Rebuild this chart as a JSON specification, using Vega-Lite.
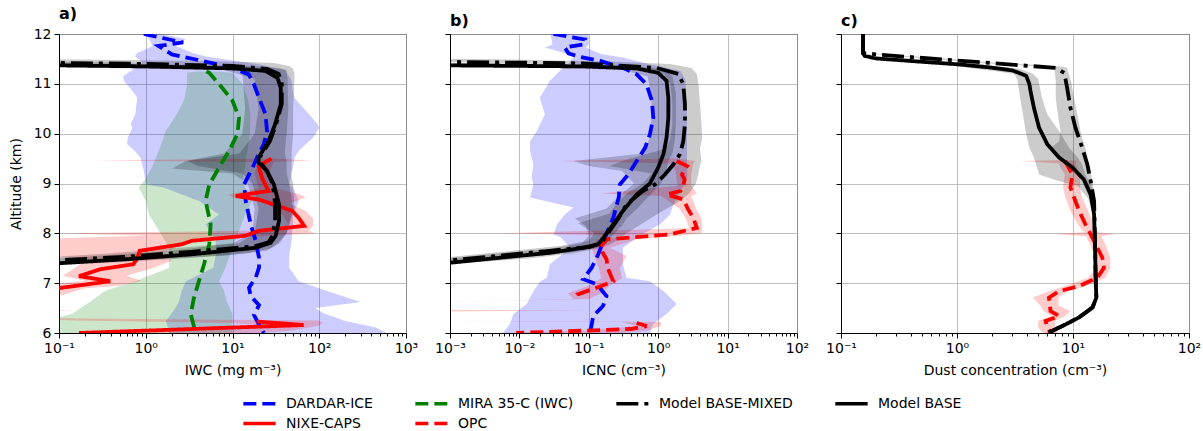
{
  "$schema": "https://vega.github.io/schema/vega-lite/v6.json",
  "background": "white",
  "padding": {"left": 8, "top": 5, "right": 5, "bottom": 5},
  "datasets": {
    "L": [
      {"p":"a","s":"DARDAR-ICE","alt":12.0,"v":0.95},{"p":"a","s":"DARDAR-ICE","alt":11.83,"v":2.7},{"p":"a","s":"DARDAR-ICE","alt":11.76,"v":1.4},{"p":"a","s":"DARDAR-ICE","alt":11.59,"v":2.0},{"p":"a","s":"DARDAR-ICE","alt":11.46,"v":4.5},{"p":"a","s":"DARDAR-ICE","alt":11.32,"v":10},{"p":"a","s":"DARDAR-ICE","alt":11.19,"v":15.4},{"p":"a","s":"DARDAR-ICE","alt":10.99,"v":17.7},{"p":"a","s":"DARDAR-ICE","alt":10.72,"v":20.2},{"p":"a","s":"DARDAR-ICE","alt":10.39,"v":24},{"p":"a","s":"DARDAR-ICE","alt":10.05,"v":25},{"p":"a","s":"DARDAR-ICE","alt":9.79,"v":23},{"p":"a","s":"DARDAR-ICE","alt":9.59,"v":20},{"p":"a","s":"DARDAR-ICE","alt":9.38,"v":17.7},{"p":"a","s":"DARDAR-ICE","alt":9.18,"v":15.5},{"p":"a","s":"DARDAR-ICE","alt":8.98,"v":13.6},{"p":"a","s":"DARDAR-ICE","alt":8.65,"v":14.2},{"p":"a","s":"DARDAR-ICE","alt":8.18,"v":16.2},{"p":"a","s":"DARDAR-ICE","alt":7.85,"v":18.5},{"p":"a","s":"DARDAR-ICE","alt":7.51,"v":20.2},{"p":"a","s":"DARDAR-ICE","alt":7.31,"v":20.2},{"p":"a","s":"DARDAR-ICE","alt":7.11,"v":18.5},{"p":"a","s":"DARDAR-ICE","alt":6.91,"v":15.5},{"p":"a","s":"DARDAR-ICE","alt":6.74,"v":16.2},{"p":"a","s":"DARDAR-ICE","alt":6.56,"v":20.2},{"p":"a","s":"DARDAR-ICE","alt":6.36,"v":17.7},{"p":"a","s":"DARDAR-ICE","alt":6.17,"v":20.2},{"p":"a","s":"DARDAR-ICE","alt":6.0,"v":23},
      {"p":"a","s":"MIRA 35-C (IWC)","alt":11.25,"v":5.0},{"p":"a","s":"MIRA 35-C (IWC)","alt":11.22,"v":5.4},{"p":"a","s":"MIRA 35-C (IWC)","alt":10.92,"v":7.6},{"p":"a","s":"MIRA 35-C (IWC)","alt":10.66,"v":10},{"p":"a","s":"MIRA 35-C (IWC)","alt":10.32,"v":11.9},{"p":"a","s":"MIRA 35-C (IWC)","alt":9.99,"v":11.4},{"p":"a","s":"MIRA 35-C (IWC)","alt":9.65,"v":9.1},{"p":"a","s":"MIRA 35-C (IWC)","alt":9.32,"v":7.0},{"p":"a","s":"MIRA 35-C (IWC)","alt":8.98,"v":5.4},{"p":"a","s":"MIRA 35-C (IWC)","alt":8.65,"v":4.9},{"p":"a","s":"MIRA 35-C (IWC)","alt":8.18,"v":5.6},{"p":"a","s":"MIRA 35-C (IWC)","alt":7.78,"v":5.4},{"p":"a","s":"MIRA 35-C (IWC)","alt":7.38,"v":4.7},{"p":"a","s":"MIRA 35-C (IWC)","alt":7.04,"v":4.1},{"p":"a","s":"MIRA 35-C (IWC)","alt":6.71,"v":3.6},{"p":"a","s":"MIRA 35-C (IWC)","alt":6.38,"v":3.3},{"p":"a","s":"MIRA 35-C (IWC)","alt":6.0,"v":3.76},
      {"p":"a","s":"NIXE-CAPS","alt":9.5,"v":28},{"p":"a","s":"NIXE-CAPS","alt":9.35,"v":20},{"p":"a","s":"NIXE-CAPS","alt":9.1,"v":22},{"p":"a","s":"NIXE-CAPS","alt":8.85,"v":26},{"p":"a","s":"NIXE-CAPS","alt":8.75,"v":10.9},{"p":"a","s":"NIXE-CAPS","alt":8.68,"v":20},{"p":"a","s":"NIXE-CAPS","alt":8.45,"v":49},{"p":"a","s":"NIXE-CAPS","alt":8.31,"v":58},{"p":"a","s":"NIXE-CAPS","alt":8.15,"v":67},{"p":"a","s":"NIXE-CAPS","alt":8.05,"v":20},{"p":"a","s":"NIXE-CAPS","alt":7.95,"v":14},{"p":"a","s":"NIXE-CAPS","alt":7.85,"v":3.4},{"p":"a","s":"NIXE-CAPS","alt":7.78,"v":2.6},{"p":"a","s":"NIXE-CAPS","alt":7.65,"v":0.85},{"p":"a","s":"NIXE-CAPS","alt":7.5,"v":0.8},{"p":"a","s":"NIXE-CAPS","alt":7.38,"v":0.72},{"p":"a","s":"NIXE-CAPS","alt":7.28,"v":0.3},{"p":"a","s":"NIXE-CAPS","alt":7.14,"v":0.17},{"p":"a","s":"NIXE-CAPS","alt":7.04,"v":0.39},{"p":"a","s":"NIXE-CAPS","alt":6.9,"v":0.1},{"p":"a","s":"NIXE-CAPS","alt":6.85,"v":0.03},{"p":"a","s":"NIXE-CAPS","alt":6.5,"v":null},{"p":"a","s":"NIXE-CAPS","alt":6.23,"v":19},{"p":"a","s":"NIXE-CAPS","alt":6.16,"v":66},{"p":"a","s":"NIXE-CAPS","alt":6.0,"v":0.17},
      {"p":"a","s":"Model BASE-MIXED","alt":11.44,"v":0.05},{"p":"a","s":"Model BASE-MIXED","alt":11.42,"v":0.1},{"p":"a","s":"Model BASE-MIXED","alt":11.4,"v":1},{"p":"a","s":"Model BASE-MIXED","alt":11.36,"v":10},{"p":"a","s":"Model BASE-MIXED","alt":11.3,"v":25},{"p":"a","s":"Model BASE-MIXED","alt":11.2,"v":34},{"p":"a","s":"Model BASE-MIXED","alt":11.0,"v":37},{"p":"a","s":"Model BASE-MIXED","alt":10.6,"v":37},{"p":"a","s":"Model BASE-MIXED","alt":10.2,"v":32},{"p":"a","s":"Model BASE-MIXED","alt":9.85,"v":27},{"p":"a","s":"Model BASE-MIXED","alt":9.55,"v":21},{"p":"a","s":"Model BASE-MIXED","alt":9.42,"v":21},{"p":"a","s":"Model BASE-MIXED","alt":9.25,"v":25},{"p":"a","s":"Model BASE-MIXED","alt":9.0,"v":29},{"p":"a","s":"Model BASE-MIXED","alt":8.6,"v":31},{"p":"a","s":"Model BASE-MIXED","alt":8.25,"v":31},{"p":"a","s":"Model BASE-MIXED","alt":7.95,"v":29},{"p":"a","s":"Model BASE-MIXED","alt":7.82,"v":26},{"p":"a","s":"Model BASE-MIXED","alt":7.74,"v":18},{"p":"a","s":"Model BASE-MIXED","alt":7.63,"v":3.4},{"p":"a","s":"Model BASE-MIXED","alt":7.53,"v":0.6},{"p":"a","s":"Model BASE-MIXED","alt":7.46,"v":0.1},{"p":"a","s":"Model BASE-MIXED","alt":7.4,"v":0.05},
      {"p":"a","s":"Model BASE","alt":11.38,"v":0.05},{"p":"a","s":"Model BASE","alt":11.37,"v":0.1},{"p":"a","s":"Model BASE","alt":11.35,"v":1},{"p":"a","s":"Model BASE","alt":11.31,"v":10},{"p":"a","s":"Model BASE","alt":11.26,"v":24},{"p":"a","s":"Model BASE","alt":11.12,"v":33},{"p":"a","s":"Model BASE","alt":10.92,"v":36},{"p":"a","s":"Model BASE","alt":10.59,"v":36},{"p":"a","s":"Model BASE","alt":10.19,"v":31},{"p":"a","s":"Model BASE","alt":9.85,"v":26},{"p":"a","s":"Model BASE","alt":9.52,"v":20},{"p":"a","s":"Model BASE","alt":9.42,"v":20},{"p":"a","s":"Model BASE","alt":9.25,"v":25},{"p":"a","s":"Model BASE","alt":8.98,"v":30},{"p":"a","s":"Model BASE","alt":8.58,"v":34.4},{"p":"a","s":"Model BASE","alt":8.25,"v":34.4},{"p":"a","s":"Model BASE","alt":7.95,"v":31.4},{"p":"a","s":"Model BASE","alt":7.81,"v":27.5},{"p":"a","s":"Model BASE","alt":7.71,"v":18.5},{"p":"a","s":"Model BASE","alt":7.58,"v":3.4},{"p":"a","s":"Model BASE","alt":7.48,"v":0.59},{"p":"a","s":"Model BASE","alt":7.4,"v":0.1},{"p":"a","s":"Model BASE","alt":7.35,"v":0.05},

      {"p":"b","s":"DARDAR-ICE","alt":12.0,"v":0.031},{"p":"b","s":"DARDAR-ICE","alt":11.89,"v":0.088},{"p":"b","s":"DARDAR-ICE","alt":11.79,"v":0.083},{"p":"b","s":"DARDAR-ICE","alt":11.73,"v":0.045},{"p":"b","s":"DARDAR-ICE","alt":11.61,"v":0.051},{"p":"b","s":"DARDAR-ICE","alt":11.54,"v":0.075},{"p":"b","s":"DARDAR-ICE","alt":11.46,"v":0.145},{"p":"b","s":"DARDAR-ICE","alt":11.32,"v":0.31},{"p":"b","s":"DARDAR-ICE","alt":11.19,"v":0.49},{"p":"b","s":"DARDAR-ICE","alt":10.99,"v":0.68},{"p":"b","s":"DARDAR-ICE","alt":10.66,"v":0.81},{"p":"b","s":"DARDAR-ICE","alt":10.32,"v":0.85},{"p":"b","s":"DARDAR-ICE","alt":9.99,"v":0.76},{"p":"b","s":"DARDAR-ICE","alt":9.72,"v":0.65},{"p":"b","s":"DARDAR-ICE","alt":9.45,"v":0.49},{"p":"b","s":"DARDAR-ICE","alt":9.18,"v":0.37},{"p":"b","s":"DARDAR-ICE","alt":8.98,"v":0.28},{"p":"b","s":"DARDAR-ICE","alt":8.72,"v":0.27},{"p":"b","s":"DARDAR-ICE","alt":8.31,"v":0.225},{"p":"b","s":"DARDAR-ICE","alt":7.91,"v":0.17},{"p":"b","s":"DARDAR-ICE","alt":7.58,"v":0.137},{"p":"b","s":"DARDAR-ICE","alt":7.31,"v":0.11},{"p":"b","s":"DARDAR-ICE","alt":7.08,"v":0.083},{"p":"b","s":"DARDAR-ICE","alt":6.98,"v":0.13},{"p":"b","s":"DARDAR-ICE","alt":6.74,"v":0.18},{"p":"b","s":"DARDAR-ICE","alt":6.54,"v":0.16},{"p":"b","s":"DARDAR-ICE","alt":6.34,"v":0.116},{"p":"b","s":"DARDAR-ICE","alt":6.17,"v":0.11},{"p":"b","s":"DARDAR-ICE","alt":6.0,"v":0.104},
      {"p":"b","s":"OPC","alt":9.45,"v":1.85},{"p":"b","s":"OPC","alt":9.35,"v":2.6},{"p":"b","s":"OPC","alt":9.18,"v":2.2},{"p":"b","s":"OPC","alt":9.08,"v":2.4},{"p":"b","s":"OPC","alt":8.95,"v":2.3},{"p":"b","s":"OPC","alt":8.85,"v":2.1},{"p":"b","s":"OPC","alt":8.78,"v":1.32},{"p":"b","s":"OPC","alt":8.68,"v":2.3},{"p":"b","s":"OPC","alt":8.48,"v":2.7},{"p":"b","s":"OPC","alt":8.31,"v":3.2},{"p":"b","s":"OPC","alt":8.11,"v":3.6},{"p":"b","s":"OPC","alt":7.98,"v":1.48},{"p":"b","s":"OPC","alt":7.88,"v":0.18},{"p":"b","s":"OPC","alt":7.71,"v":0.145},{"p":"b","s":"OPC","alt":7.48,"v":0.18},{"p":"b","s":"OPC","alt":7.28,"v":0.19},{"p":"b","s":"OPC","alt":7.04,"v":0.225},{"p":"b","s":"OPC","alt":6.91,"v":0.13},{"p":"b","s":"OPC","alt":6.78,"v":0.071},{"p":"b","s":"OPC","alt":6.68,"v":0.083},{"p":"b","s":"OPC","alt":6.45,"v":null},{"p":"b","s":"OPC","alt":6.2,"v":0.49},{"p":"b","s":"OPC","alt":6.14,"v":0.68},{"p":"b","s":"OPC","alt":6.08,"v":0.4},{"p":"b","s":"OPC","alt":6.0,"v":0.009},
      {"p":"b","s":"Model BASE-MIXED","alt":11.45,"v":0.0005},{"p":"b","s":"Model BASE-MIXED","alt":11.44,"v":0.001},{"p":"b","s":"Model BASE-MIXED","alt":11.41,"v":0.083},{"p":"b","s":"Model BASE-MIXED","alt":11.32,"v":0.95},{"p":"b","s":"Model BASE-MIXED","alt":11.2,"v":1.95},{"p":"b","s":"Model BASE-MIXED","alt":10.99,"v":2.3},{"p":"b","s":"Model BASE-MIXED","alt":10.59,"v":2.43},{"p":"b","s":"Model BASE-MIXED","alt":10.19,"v":2.43},{"p":"b","s":"Model BASE-MIXED","alt":9.85,"v":2.3},{"p":"b","s":"Model BASE-MIXED","alt":9.59,"v":2.06},{"p":"b","s":"Model BASE-MIXED","alt":9.38,"v":1.65},{"p":"b","s":"Model BASE-MIXED","alt":9.18,"v":1.25},{"p":"b","s":"Model BASE-MIXED","alt":8.98,"v":0.9},{"p":"b","s":"Model BASE-MIXED","alt":8.85,"v":0.6},{"p":"b","s":"Model BASE-MIXED","alt":8.58,"v":0.35},{"p":"b","s":"Model BASE-MIXED","alt":8.31,"v":0.27},{"p":"b","s":"Model BASE-MIXED","alt":8.05,"v":0.2},{"p":"b","s":"Model BASE-MIXED","alt":7.81,"v":0.153},{"p":"b","s":"Model BASE-MIXED","alt":7.73,"v":0.104},{"p":"b","s":"Model BASE-MIXED","alt":7.65,"v":0.0276},{"p":"b","s":"Model BASE-MIXED","alt":7.55,"v":0.0052},{"p":"b","s":"Model BASE-MIXED","alt":7.46,"v":0.001},{"p":"b","s":"Model BASE-MIXED","alt":7.43,"v":0.0005},
      {"p":"b","s":"Model BASE","alt":11.38,"v":0.0005},{"p":"b","s":"Model BASE","alt":11.37,"v":0.001},{"p":"b","s":"Model BASE","alt":11.35,"v":0.083},{"p":"b","s":"Model BASE","alt":11.31,"v":0.49},{"p":"b","s":"Model BASE","alt":11.22,"v":1.0},{"p":"b","s":"Model BASE","alt":11.06,"v":1.32},{"p":"b","s":"Model BASE","alt":10.72,"v":1.4},{"p":"b","s":"Model BASE","alt":10.32,"v":1.4},{"p":"b","s":"Model BASE","alt":9.92,"v":1.32},{"p":"b","s":"Model BASE","alt":9.59,"v":1.19},{"p":"b","s":"Model BASE","alt":9.32,"v":1.0},{"p":"b","s":"Model BASE","alt":9.0,"v":0.76},{"p":"b","s":"Model BASE","alt":8.78,"v":0.49},{"p":"b","s":"Model BASE","alt":8.45,"v":0.31},{"p":"b","s":"Model BASE","alt":8.18,"v":0.225},{"p":"b","s":"Model BASE","alt":7.95,"v":0.17},{"p":"b","s":"Model BASE","alt":7.78,"v":0.137},{"p":"b","s":"Model BASE","alt":7.71,"v":0.083},{"p":"b","s":"Model BASE","alt":7.61,"v":0.0276},{"p":"b","s":"Model BASE","alt":7.51,"v":0.0052},{"p":"b","s":"Model BASE","alt":7.41,"v":0.001},{"p":"b","s":"Model BASE","alt":7.38,"v":0.0005},

      {"p":"c","s":"OPC","alt":9.45,"v":8.5},{"p":"c","s":"OPC","alt":9.38,"v":8.9},{"p":"c","s":"OPC","alt":9.18,"v":9.9},{"p":"c","s":"OPC","alt":8.92,"v":9.5},{"p":"c","s":"OPC","alt":8.72,"v":10.2},{"p":"c","s":"OPC","alt":8.45,"v":11.3},{"p":"c","s":"OPC","alt":8.18,"v":12.8},{"p":"c","s":"OPC","alt":7.98,"v":14.2},{"p":"c","s":"OPC","alt":7.78,"v":15.7},{"p":"c","s":"OPC","alt":7.51,"v":17.9},{"p":"c","s":"OPC","alt":7.31,"v":18.5},{"p":"c","s":"OPC","alt":7.11,"v":16.2},{"p":"c","s":"OPC","alt":6.94,"v":11.3},{"p":"c","s":"OPC","alt":6.84,"v":7.6},{"p":"c","s":"OPC","alt":6.71,"v":6.2},{"p":"c","s":"OPC","alt":6.44,"v":6.4},{"p":"c","s":"OPC","alt":6.34,"v":7.6},{"p":"c","s":"OPC","alt":6.24,"v":5.8},{"p":"c","s":"OPC","alt":6.11,"v":6.0},{"p":"c","s":"OPC","alt":6.01,"v":6.4},
      {"p":"c","s":"Model BASE-MIXED","alt":12.0,"v":0.155},{"p":"c","s":"Model BASE-MIXED","alt":11.62,"v":0.155},{"p":"c","s":"Model BASE-MIXED","alt":11.59,"v":0.2},{"p":"c","s":"Model BASE-MIXED","alt":11.49,"v":0.74},{"p":"c","s":"Model BASE-MIXED","alt":11.42,"v":1.89},{"p":"c","s":"Model BASE-MIXED","alt":11.32,"v":7.1},{"p":"c","s":"Model BASE-MIXED","alt":11.22,"v":8.4},{"p":"c","s":"Model BASE-MIXED","alt":10.92,"v":8.9},{"p":"c","s":"Model BASE-MIXED","alt":10.52,"v":9.5},{"p":"c","s":"Model BASE-MIXED","alt":10.12,"v":10.5},{"p":"c","s":"Model BASE-MIXED","alt":9.72,"v":12.0},{"p":"c","s":"Model BASE-MIXED","alt":9.38,"v":13.3},{"p":"c","s":"Model BASE-MIXED","alt":9.05,"v":14.2},{"p":"c","s":"Model BASE-MIXED","alt":8.65,"v":15.2},{"p":"c","s":"Model BASE-MIXED","alt":8.38,"v":15.3},{"p":"c","s":"Model BASE-MIXED","alt":7.71,"v":15.5},{"p":"c","s":"Model BASE-MIXED","alt":7.04,"v":15.7},{"p":"c","s":"Model BASE-MIXED","alt":6.71,"v":15.9},{"p":"c","s":"Model BASE-MIXED","alt":6.51,"v":14.7},{"p":"c","s":"Model BASE-MIXED","alt":6.31,"v":11.2},{"p":"c","s":"Model BASE-MIXED","alt":6.17,"v":8.6},{"p":"c","s":"Model BASE-MIXED","alt":6.01,"v":6.2},
      {"p":"c","s":"Model BASE","alt":12.0,"v":0.155},{"p":"c","s":"Model BASE","alt":11.62,"v":0.155},{"p":"c","s":"Model BASE","alt":11.56,"v":0.16},{"p":"c","s":"Model BASE","alt":11.51,"v":0.2},{"p":"c","s":"Model BASE","alt":11.45,"v":0.45},{"p":"c","s":"Model BASE","alt":11.39,"v":1.04},{"p":"c","s":"Model BASE","alt":11.33,"v":1.9},{"p":"c","s":"Model BASE","alt":11.27,"v":3.0},{"p":"c","s":"Model BASE","alt":11.21,"v":3.5},{"p":"c","s":"Model BASE","alt":11.16,"v":3.95},{"p":"c","s":"Model BASE","alt":11.0,"v":4.2},{"p":"c","s":"Model BASE","alt":10.86,"v":4.3},{"p":"c","s":"Model BASE","alt":10.52,"v":4.6},{"p":"c","s":"Model BASE","alt":10.12,"v":5.1},{"p":"c","s":"Model BASE","alt":9.79,"v":6.0},{"p":"c","s":"Model BASE","alt":9.52,"v":7.6},{"p":"c","s":"Model BASE","alt":9.32,"v":9.9},{"p":"c","s":"Model BASE","alt":9.08,"v":12.4},{"p":"c","s":"Model BASE","alt":8.78,"v":14.2},{"p":"c","s":"Model BASE","alt":8.38,"v":15.2},{"p":"c","s":"Model BASE","alt":7.71,"v":15.5},{"p":"c","s":"Model BASE","alt":7.04,"v":15.7},{"p":"c","s":"Model BASE","alt":6.71,"v":15.9},{"p":"c","s":"Model BASE","alt":6.51,"v":14.7},{"p":"c","s":"Model BASE","alt":6.31,"v":11.2},{"p":"c","s":"Model BASE","alt":6.17,"v":8.6},{"p":"c","s":"Model BASE","alt":6.01,"v":6.2}
    ],
    "B": [
      {"p":"a","s":"DARDAR-ICE","alt":12.0,"lo":0.95,"hi":1.5},{"p":"a","s":"DARDAR-ICE","alt":11.9,"lo":1.1,"hi":2.9},{"p":"a","s":"DARDAR-ICE","alt":11.76,"lo":1.2,"hi":2.2},{"p":"a","s":"DARDAR-ICE","alt":11.62,"lo":0.8,"hi":3.5},{"p":"a","s":"DARDAR-ICE","alt":11.55,"lo":0.75,"hi":5},{"p":"a","s":"DARDAR-ICE","alt":11.45,"lo":0.9,"hi":12},{"p":"a","s":"DARDAR-ICE","alt":11.38,"lo":0.9,"hi":22},{"p":"a","s":"DARDAR-ICE","alt":11.28,"lo":0.7,"hi":40},{"p":"a","s":"DARDAR-ICE","alt":11.15,"lo":0.55,"hi":45},{"p":"a","s":"DARDAR-ICE","alt":11.06,"lo":0.56,"hi":48},{"p":"a","s":"DARDAR-ICE","alt":10.9,"lo":0.67,"hi":49},{"p":"a","s":"DARDAR-ICE","alt":10.72,"lo":0.8,"hi":52},{"p":"a","s":"DARDAR-ICE","alt":10.59,"lo":0.78,"hi":60},{"p":"a","s":"DARDAR-ICE","alt":10.39,"lo":0.76,"hi":76},{"p":"a","s":"DARDAR-ICE","alt":10.2,"lo":0.67,"hi":95},{"p":"a","s":"DARDAR-ICE","alt":10.12,"lo":0.7,"hi":100},{"p":"a","s":"DARDAR-ICE","alt":9.92,"lo":0.62,"hi":85},{"p":"a","s":"DARDAR-ICE","alt":9.79,"lo":0.61,"hi":70},{"p":"a","s":"DARDAR-ICE","alt":9.65,"lo":0.75,"hi":58},{"p":"a","s":"DARDAR-ICE","alt":9.52,"lo":0.87,"hi":52},{"p":"a","s":"DARDAR-ICE","alt":9.25,"lo":0.95,"hi":49},{"p":"a","s":"DARDAR-ICE","alt":8.98,"lo":1.0,"hi":45},{"p":"a","s":"DARDAR-ICE","alt":8.92,"lo":1.6,"hi":50},{"p":"a","s":"DARDAR-ICE","alt":8.65,"lo":4.1,"hi":58},{"p":"a","s":"DARDAR-ICE","alt":8.38,"lo":7.0,"hi":50},{"p":"a","s":"DARDAR-ICE","alt":8.18,"lo":4.9,"hi":50},{"p":"a","s":"DARDAR-ICE","alt":7.85,"lo":6.4,"hi":48},{"p":"a","s":"DARDAR-ICE","alt":7.55,"lo":6.4,"hi":45},{"p":"a","s":"DARDAR-ICE","alt":7.31,"lo":6.0,"hi":45},{"p":"a","s":"DARDAR-ICE","alt":7.04,"lo":2.9,"hi":58},{"p":"a","s":"DARDAR-ICE","alt":6.85,"lo":2.6,"hi":120},{"p":"a","s":"DARDAR-ICE","alt":6.62,"lo":2.4,"hi":300},{"p":"a","s":"DARDAR-ICE","alt":6.5,"lo":2.2,"hi":90},{"p":"a","s":"DARDAR-ICE","alt":6.4,"lo":2.0,"hi":110},{"p":"a","s":"DARDAR-ICE","alt":6.24,"lo":1.7,"hi":200},{"p":"a","s":"DARDAR-ICE","alt":6.11,"lo":1.8,"hi":450},{"p":"a","s":"DARDAR-ICE","alt":6.0,"lo":1.85,"hi":600},
      {"p":"a","s":"MIRA 35-C (IWC)","alt":11.25,"lo":4.0,"hi":6.0},{"p":"a","s":"MIRA 35-C (IWC)","alt":11.22,"lo":3.0,"hi":10},{"p":"a","s":"MIRA 35-C (IWC)","alt":11.0,"lo":3.0,"hi":13},{"p":"a","s":"MIRA 35-C (IWC)","alt":10.7,"lo":2.8,"hi":15},{"p":"a","s":"MIRA 35-C (IWC)","alt":10.4,"lo":2.3,"hi":16},{"p":"a","s":"MIRA 35-C (IWC)","alt":10.05,"lo":1.7,"hi":16},{"p":"a","s":"MIRA 35-C (IWC)","alt":9.7,"lo":1.45,"hi":15},{"p":"a","s":"MIRA 35-C (IWC)","alt":9.35,"lo":1.2,"hi":14},{"p":"a","s":"MIRA 35-C (IWC)","alt":9.1,"lo":1.0,"hi":13},{"p":"a","s":"MIRA 35-C (IWC)","alt":8.92,"lo":0.83,"hi":14},{"p":"a","s":"MIRA 35-C (IWC)","alt":8.65,"lo":1.0,"hi":16.8},{"p":"a","s":"MIRA 35-C (IWC)","alt":8.38,"lo":1.09,"hi":14},{"p":"a","s":"MIRA 35-C (IWC)","alt":8.05,"lo":1.42,"hi":11.9},{"p":"a","s":"MIRA 35-C (IWC)","alt":7.71,"lo":1.86,"hi":10},{"p":"a","s":"MIRA 35-C (IWC)","alt":7.31,"lo":1.86,"hi":8.3},{"p":"a","s":"MIRA 35-C (IWC)","alt":7.04,"lo":0.76,"hi":7},{"p":"a","s":"MIRA 35-C (IWC)","alt":6.85,"lo":0.34,"hi":8},{"p":"a","s":"MIRA 35-C (IWC)","alt":6.65,"lo":0.24,"hi":8.5},{"p":"a","s":"MIRA 35-C (IWC)","alt":6.38,"lo":0.14,"hi":10},{"p":"a","s":"MIRA 35-C (IWC)","alt":6.18,"lo":0.05,"hi":10},{"p":"a","s":"MIRA 35-C (IWC)","alt":6.0,"lo":0.05,"hi":10},
      {"p":"a","s":"NIXE-CAPS","alt":9.5,"lo":27,"hi":28},{"p":"a","s":"NIXE-CAPS","alt":9.46,"lo":0.24,"hi":83},{"p":"a","s":"NIXE-CAPS","alt":9.43,"lo":20,"hi":30},{"p":"a","s":"NIXE-CAPS","alt":9.2,"lo":18,"hi":26},{"p":"a","s":"NIXE-CAPS","alt":8.9,"lo":20,"hi":32},{"p":"a","s":"NIXE-CAPS","alt":8.78,"lo":9,"hi":60},{"p":"a","s":"NIXE-CAPS","alt":8.72,"lo":10,"hi":70},{"p":"a","s":"NIXE-CAPS","alt":8.6,"lo":25,"hi":45},{"p":"a","s":"NIXE-CAPS","alt":8.45,"lo":35,"hi":70},{"p":"a","s":"NIXE-CAPS","alt":8.3,"lo":40,"hi":85},{"p":"a","s":"NIXE-CAPS","alt":8.15,"lo":45,"hi":85},{"p":"a","s":"NIXE-CAPS","alt":8.05,"lo":18,"hi":75},{"p":"a","s":"NIXE-CAPS","alt":8.0,"lo":0.1,"hi":90},{"p":"a","s":"NIXE-CAPS","alt":7.95,"lo":1.0,"hi":30},{"p":"a","s":"NIXE-CAPS","alt":7.9,"lo":0.1,"hi":4},{"p":"a","s":"NIXE-CAPS","alt":7.75,"lo":0.05,"hi":2.5},{"p":"a","s":"NIXE-CAPS","alt":7.6,"lo":0.05,"hi":1.5},{"p":"a","s":"NIXE-CAPS","alt":7.45,"lo":0.2,"hi":2.0},{"p":"a","s":"NIXE-CAPS","alt":7.3,"lo":0.15,"hi":1.2},{"p":"a","s":"NIXE-CAPS","alt":7.15,"lo":0.11,"hi":0.6},{"p":"a","s":"NIXE-CAPS","alt":7.05,"lo":0.2,"hi":0.9},{"p":"a","s":"NIXE-CAPS","alt":6.95,"lo":0.05,"hi":0.5},{"p":"a","s":"NIXE-CAPS","alt":6.9,"lo":0.02,"hi":0.2},{"p":"a","s":"NIXE-CAPS","alt":6.47,"lo":0.02,"hi":0.03},{"p":"a","s":"NIXE-CAPS","alt":6.45,"lo":0.02,"hi":0.15},{"p":"a","s":"NIXE-CAPS","alt":6.42,"lo":0.02,"hi":0.03},{"p":"a","s":"NIXE-CAPS","alt":6.3,"lo":0.02,"hi":0.04},{"p":"a","s":"NIXE-CAPS","alt":6.25,"lo":0.15,"hi":100},{"p":"a","s":"NIXE-CAPS","alt":6.2,"lo":10,"hi":110},{"p":"a","s":"NIXE-CAPS","alt":6.15,"lo":25,"hi":100},{"p":"a","s":"NIXE-CAPS","alt":6.05,"lo":5,"hi":50},{"p":"a","s":"NIXE-CAPS","alt":6.0,"lo":0.1,"hi":20},
      {"p":"a","s":"Model BASE-MIXED","alt":11.5,"lo":0.05,"hi":0.05},{"p":"a","s":"Model BASE-MIXED","alt":11.46,"lo":0.05,"hi":5},{"p":"a","s":"Model BASE-MIXED","alt":11.42,"lo":0.05,"hi":30},{"p":"a","s":"Model BASE-MIXED","alt":11.36,"lo":0.5,"hi":45},{"p":"a","s":"Model BASE-MIXED","alt":11.3,"lo":15,"hi":50},{"p":"a","s":"Model BASE-MIXED","alt":11.2,"lo":13,"hi":52},{"p":"a","s":"Model BASE-MIXED","alt":10.5,"lo":14,"hi":50},{"p":"a","s":"Model BASE-MIXED","alt":10.0,"lo":13,"hi":50},{"p":"a","s":"Model BASE-MIXED","alt":9.6,"lo":8,"hi":48},{"p":"a","s":"Model BASE-MIXED","alt":9.45,"lo":2.9,"hi":48},{"p":"a","s":"Model BASE-MIXED","alt":9.3,"lo":2.0,"hi":48},{"p":"a","s":"Model BASE-MIXED","alt":9.2,"lo":10,"hi":47},{"p":"a","s":"Model BASE-MIXED","alt":9.0,"lo":15,"hi":50},{"p":"a","s":"Model BASE-MIXED","alt":8.5,"lo":18,"hi":52},{"p":"a","s":"Model BASE-MIXED","alt":8.0,"lo":17,"hi":42},{"p":"a","s":"Model BASE-MIXED","alt":7.8,"lo":10,"hi":33},{"p":"a","s":"Model BASE-MIXED","alt":7.65,"lo":2,"hi":25},{"p":"a","s":"Model BASE-MIXED","alt":7.55,"lo":0.3,"hi":8},{"p":"a","s":"Model BASE-MIXED","alt":7.47,"lo":0.05,"hi":1},{"p":"a","s":"Model BASE-MIXED","alt":7.4,"lo":0.05,"hi":0.1},
      {"p":"a","s":"Model BASE","alt":11.44,"lo":0.05,"hi":0.3},{"p":"a","s":"Model BASE","alt":11.4,"lo":0.05,"hi":1.0},{"p":"a","s":"Model BASE","alt":11.36,"lo":0.05,"hi":15},{"p":"a","s":"Model BASE","alt":11.32,"lo":0.3,"hi":35},{"p":"a","s":"Model BASE","alt":11.28,"lo":8,"hi":42},{"p":"a","s":"Model BASE","alt":11.1,"lo":18,"hi":43},{"p":"a","s":"Model BASE","alt":10.5,"lo":20,"hi":44},{"p":"a","s":"Model BASE","alt":10.0,"lo":18,"hi":42},{"p":"a","s":"Model BASE","alt":9.6,"lo":12,"hi":40},{"p":"a","s":"Model BASE","alt":9.45,"lo":3.0,"hi":42},{"p":"a","s":"Model BASE","alt":9.35,"lo":4,"hi":42},{"p":"a","s":"Model BASE","alt":9.2,"lo":13,"hi":42},{"p":"a","s":"Model BASE","alt":9.0,"lo":17,"hi":45},{"p":"a","s":"Model BASE","alt":8.5,"lo":20,"hi":50},{"p":"a","s":"Model BASE","alt":8.0,"lo":18,"hi":42},{"p":"a","s":"Model BASE","alt":7.8,"lo":12,"hi":35},{"p":"a","s":"Model BASE","alt":7.7,"lo":2,"hi":28},{"p":"a","s":"Model BASE","alt":7.6,"lo":0.4,"hi":15},{"p":"a","s":"Model BASE","alt":7.5,"lo":0.05,"hi":3},{"p":"a","s":"Model BASE","alt":7.42,"lo":0.05,"hi":0.5},{"p":"a","s":"Model BASE","alt":7.35,"lo":0.05,"hi":0.05},

      {"p":"b","s":"DARDAR-ICE","alt":12.0,"lo":0.028,"hi":0.1},{"p":"b","s":"DARDAR-ICE","alt":11.79,"lo":0.03,"hi":0.1},{"p":"b","s":"DARDAR-ICE","alt":11.73,"lo":0.0233,"hi":0.09},{"p":"b","s":"DARDAR-ICE","alt":11.6,"lo":0.05,"hi":0.15},{"p":"b","s":"DARDAR-ICE","alt":11.53,"lo":0.06,"hi":0.31},{"p":"b","s":"DARDAR-ICE","alt":11.39,"lo":0.05,"hi":0.76},{"p":"b","s":"DARDAR-ICE","alt":11.26,"lo":0.038,"hi":2.1},{"p":"b","s":"DARDAR-ICE","alt":11.06,"lo":0.0276,"hi":2.5},{"p":"b","s":"DARDAR-ICE","alt":10.72,"lo":0.0197,"hi":2.5},{"p":"b","s":"DARDAR-ICE","alt":10.39,"lo":0.0233,"hi":2.6},{"p":"b","s":"DARDAR-ICE","alt":10.05,"lo":0.0178,"hi":2.6},{"p":"b","s":"DARDAR-ICE","alt":9.85,"lo":0.0142,"hi":2.6},{"p":"b","s":"DARDAR-ICE","alt":9.65,"lo":0.0142,"hi":2.6},{"p":"b","s":"DARDAR-ICE","alt":9.38,"lo":0.0159,"hi":2.6},{"p":"b","s":"DARDAR-ICE","alt":9.12,"lo":0.015,"hi":2.6},{"p":"b","s":"DARDAR-ICE","alt":8.98,"lo":0.0159,"hi":2.4},{"p":"b","s":"DARDAR-ICE","alt":8.72,"lo":0.0142,"hi":1.85},{"p":"b","s":"DARDAR-ICE","alt":8.52,"lo":0.06,"hi":1.6},{"p":"b","s":"DARDAR-ICE","alt":8.38,"lo":0.045,"hi":1.48},{"p":"b","s":"DARDAR-ICE","alt":8.25,"lo":0.038,"hi":1.2},{"p":"b","s":"DARDAR-ICE","alt":8.18,"lo":0.035,"hi":1.06},{"p":"b","s":"DARDAR-ICE","alt":7.98,"lo":0.031,"hi":0.6},{"p":"b","s":"DARDAR-ICE","alt":7.91,"lo":0.04,"hi":0.49},{"p":"b","s":"DARDAR-ICE","alt":7.71,"lo":0.054,"hi":0.31},{"p":"b","s":"DARDAR-ICE","alt":7.38,"lo":0.0276,"hi":0.31},{"p":"b","s":"DARDAR-ICE","alt":7.11,"lo":0.0248,"hi":0.35},{"p":"b","s":"DARDAR-ICE","alt":7.04,"lo":0.02,"hi":0.76},{"p":"b","s":"DARDAR-ICE","alt":6.84,"lo":0.0159,"hi":1.2},{"p":"b","s":"DARDAR-ICE","alt":6.58,"lo":0.0127,"hi":1.85},{"p":"b","s":"DARDAR-ICE","alt":6.38,"lo":0.0082,"hi":1.32},{"p":"b","s":"DARDAR-ICE","alt":6.18,"lo":0.0073,"hi":0.85},{"p":"b","s":"DARDAR-ICE","alt":6.0,"lo":0.0058,"hi":0.76},
      {"p":"b","s":"OPC","alt":9.5,"lo":1.8,"hi":1.9},{"p":"b","s":"OPC","alt":9.45,"lo":0.034,"hi":3.4},{"p":"b","s":"OPC","alt":9.4,"lo":1.6,"hi":3.2},{"p":"b","s":"OPC","alt":9.2,"lo":1.8,"hi":3.0},{"p":"b","s":"OPC","alt":8.95,"lo":1.9,"hi":3.0},{"p":"b","s":"OPC","alt":8.8,"lo":0.145,"hi":3.6},{"p":"b","s":"OPC","alt":8.75,"lo":1.1,"hi":3.0},{"p":"b","s":"OPC","alt":8.5,"lo":2.0,"hi":3.5},{"p":"b","s":"OPC","alt":8.3,"lo":2.5,"hi":4.2},{"p":"b","s":"OPC","alt":8.1,"lo":2.8,"hi":4.3},{"p":"b","s":"OPC","alt":8.0,"lo":0.005,"hi":4.2},{"p":"b","s":"OPC","alt":7.95,"lo":0.5,"hi":2.0},{"p":"b","s":"OPC","alt":7.88,"lo":0.13,"hi":0.5},{"p":"b","s":"OPC","alt":7.71,"lo":0.11,"hi":0.2},{"p":"b","s":"OPC","alt":7.55,"lo":0.12,"hi":0.35},{"p":"b","s":"OPC","alt":7.3,"lo":0.14,"hi":0.28},{"p":"b","s":"OPC","alt":7.1,"lo":0.15,"hi":0.3},{"p":"b","s":"OPC","alt":6.95,"lo":0.1,"hi":0.2},{"p":"b","s":"OPC","alt":6.8,"lo":0.05,"hi":0.15},{"p":"b","s":"OPC","alt":6.68,"lo":0.06,"hi":0.1},{"p":"b","s":"OPC","alt":6.62,"lo":0.0005,"hi":0.0006},{"p":"b","s":"OPC","alt":6.47,"lo":0.0005,"hi":0.0006},{"p":"b","s":"OPC","alt":6.45,"lo":0.0005,"hi":0.1},{"p":"b","s":"OPC","alt":6.43,"lo":0.0005,"hi":0.0006},{"p":"b","s":"OPC","alt":6.25,"lo":0.0005,"hi":0.0006},{"p":"b","s":"OPC","alt":6.22,"lo":0.3,"hi":1.1},{"p":"b","s":"OPC","alt":6.14,"lo":0.5,"hi":1.1},{"p":"b","s":"OPC","alt":6.05,"lo":0.1,"hi":0.7},{"p":"b","s":"OPC","alt":6.0,"lo":0.005,"hi":0.3},
      {"p":"b","s":"Model BASE-MIXED","alt":11.5,"lo":0.0005,"hi":0.003},{"p":"b","s":"Model BASE-MIXED","alt":11.45,"lo":0.0005,"hi":0.2},{"p":"b","s":"Model BASE-MIXED","alt":11.4,"lo":0.02,"hi":1.5},{"p":"b","s":"Model BASE-MIXED","alt":11.32,"lo":0.4,"hi":3.0},{"p":"b","s":"Model BASE-MIXED","alt":11.2,"lo":1.2,"hi":3.6},{"p":"b","s":"Model BASE-MIXED","alt":11.0,"lo":1.5,"hi":3.8},{"p":"b","s":"Model BASE-MIXED","alt":10.6,"lo":1.6,"hi":4.0},{"p":"b","s":"Model BASE-MIXED","alt":10.2,"lo":1.6,"hi":4.2},{"p":"b","s":"Model BASE-MIXED","alt":9.9,"lo":1.5,"hi":4.3},{"p":"b","s":"Model BASE-MIXED","alt":9.7,"lo":1.3,"hi":4.0},{"p":"b","s":"Model BASE-MIXED","alt":9.45,"lo":0.3,"hi":4.2},{"p":"b","s":"Model BASE-MIXED","alt":9.35,"lo":0.2,"hi":4.0},{"p":"b","s":"Model BASE-MIXED","alt":9.2,"lo":0.8,"hi":3.8},{"p":"b","s":"Model BASE-MIXED","alt":9.0,"lo":0.6,"hi":3.5},{"p":"b","s":"Model BASE-MIXED","alt":8.8,"lo":0.35,"hi":2.8},{"p":"b","s":"Model BASE-MIXED","alt":8.6,"lo":0.25,"hi":1.8},{"p":"b","s":"Model BASE-MIXED","alt":8.4,"lo":0.2,"hi":1.0},{"p":"b","s":"Model BASE-MIXED","alt":8.2,"lo":0.07,"hi":0.6},{"p":"b","s":"Model BASE-MIXED","alt":8.0,"lo":0.12,"hi":0.35},{"p":"b","s":"Model BASE-MIXED","alt":7.85,"lo":0.1,"hi":0.25},{"p":"b","s":"Model BASE-MIXED","alt":7.75,"lo":0.04,"hi":0.18},{"p":"b","s":"Model BASE-MIXED","alt":7.65,"lo":0.008,"hi":0.08},{"p":"b","s":"Model BASE-MIXED","alt":7.55,"lo":0.0015,"hi":0.02},{"p":"b","s":"Model BASE-MIXED","alt":7.48,"lo":0.0005,"hi":0.004},{"p":"b","s":"Model BASE-MIXED","alt":7.43,"lo":0.0005,"hi":0.0006},
      {"p":"b","s":"Model BASE","alt":11.42,"lo":0.0005,"hi":0.003},{"p":"b","s":"Model BASE","alt":11.37,"lo":0.0005,"hi":0.2},{"p":"b","s":"Model BASE","alt":11.33,"lo":0.02,"hi":0.8},{"p":"b","s":"Model BASE","alt":11.28,"lo":0.3,"hi":1.3},{"p":"b","s":"Model BASE","alt":11.15,"lo":0.7,"hi":1.6},{"p":"b","s":"Model BASE","alt":10.8,"lo":0.8,"hi":1.8},{"p":"b","s":"Model BASE","alt":10.3,"lo":0.8,"hi":1.8},{"p":"b","s":"Model BASE","alt":9.9,"lo":0.75,"hi":1.75},{"p":"b","s":"Model BASE","alt":9.6,"lo":0.6,"hi":1.6},{"p":"b","s":"Model BASE","alt":9.45,"lo":0.06,"hi":1.4},{"p":"b","s":"Model BASE","alt":9.35,"lo":0.1,"hi":1.35},{"p":"b","s":"Model BASE","alt":9.25,"lo":0.3,"hi":1.3},{"p":"b","s":"Model BASE","alt":9.0,"lo":0.45,"hi":1.1},{"p":"b","s":"Model BASE","alt":8.8,"lo":0.3,"hi":0.8},{"p":"b","s":"Model BASE","alt":8.5,"lo":0.18,"hi":0.5},{"p":"b","s":"Model BASE","alt":8.3,"lo":0.063,"hi":0.35},{"p":"b","s":"Model BASE","alt":8.15,"lo":0.09,"hi":0.3},{"p":"b","s":"Model BASE","alt":7.95,"lo":0.1,"hi":0.22},{"p":"b","s":"Model BASE","alt":7.8,"lo":0.08,"hi":0.18},{"p":"b","s":"Model BASE","alt":7.7,"lo":0.03,"hi":0.14},{"p":"b","s":"Model BASE","alt":7.6,"lo":0.005,"hi":0.06},{"p":"b","s":"Model BASE","alt":7.5,"lo":0.001,"hi":0.015},{"p":"b","s":"Model BASE","alt":7.43,"lo":0.0005,"hi":0.003},{"p":"b","s":"Model BASE","alt":7.38,"lo":0.0005,"hi":0.0006},

      {"p":"c","s":"OPC","alt":9.47,"lo":8.4,"hi":8.8},{"p":"c","s":"OPC","alt":9.45,"lo":3.5,"hi":11},{"p":"c","s":"OPC","alt":9.4,"lo":7.5,"hi":10.5},{"p":"c","s":"OPC","alt":9.18,"lo":8.5,"hi":11.5},{"p":"c","s":"OPC","alt":8.92,"lo":8.2,"hi":11.5},{"p":"c","s":"OPC","alt":8.72,"lo":8.6,"hi":12.0},{"p":"c","s":"OPC","alt":8.45,"lo":9.5,"hi":13.5},{"p":"c","s":"OPC","alt":8.18,"lo":11,"hi":15},{"p":"c","s":"OPC","alt":8.02,"lo":12.5,"hi":16.5},{"p":"c","s":"OPC","alt":7.98,"lo":7.0,"hi":23},{"p":"c","s":"OPC","alt":7.94,"lo":13,"hi":17.5},{"p":"c","s":"OPC","alt":7.78,"lo":14,"hi":19},{"p":"c","s":"OPC","alt":7.51,"lo":15.5,"hi":21},{"p":"c","s":"OPC","alt":7.31,"lo":16,"hi":21},{"p":"c","s":"OPC","alt":7.11,"lo":13.5,"hi":19},{"p":"c","s":"OPC","alt":6.94,"lo":8.5,"hi":13},{"p":"c","s":"OPC","alt":6.84,"lo":6.2,"hi":9.0},{"p":"c","s":"OPC","alt":6.71,"lo":4.5,"hi":7.5},{"p":"c","s":"OPC","alt":6.55,"lo":5.2,"hi":7.5},{"p":"c","s":"OPC","alt":6.44,"lo":5.6,"hi":9.5},{"p":"c","s":"OPC","alt":6.34,"lo":6.5,"hi":8.6},{"p":"c","s":"OPC","alt":6.24,"lo":5.0,"hi":7.0},{"p":"c","s":"OPC","alt":6.11,"lo":5.0,"hi":7.0},{"p":"c","s":"OPC","alt":6.0,"lo":5.5,"hi":7.4},
      {"p":"c","s":"Model BASE-MIXED","alt":11.6,"lo":0.18,"hi":0.22},{"p":"c","s":"Model BASE-MIXED","alt":11.5,"lo":0.6,"hi":0.9},{"p":"c","s":"Model BASE-MIXED","alt":11.42,"lo":1.6,"hi":2.3},{"p":"c","s":"Model BASE-MIXED","alt":11.35,"lo":5.0,"hi":8.0},{"p":"c","s":"Model BASE-MIXED","alt":11.32,"lo":6.9,"hi":8.9},{"p":"c","s":"Model BASE-MIXED","alt":11.06,"lo":7.1,"hi":9.6},{"p":"c","s":"Model BASE-MIXED","alt":10.72,"lo":7.1,"hi":10.2},{"p":"c","s":"Model BASE-MIXED","alt":10.39,"lo":7.4,"hi":10.9},{"p":"c","s":"Model BASE-MIXED","alt":10.05,"lo":7.8,"hi":11.6},{"p":"c","s":"Model BASE-MIXED","alt":9.85,"lo":7.6,"hi":12.2},{"p":"c","s":"Model BASE-MIXED","alt":9.72,"lo":6.5,"hi":12.8},{"p":"c","s":"Model BASE-MIXED","alt":9.52,"lo":7.5,"hi":13.3},{"p":"c","s":"Model BASE-MIXED","alt":9.38,"lo":9.0,"hi":13.7},{"p":"c","s":"Model BASE-MIXED","alt":9.05,"lo":12.0,"hi":14.7},{"p":"c","s":"Model BASE-MIXED","alt":8.7,"lo":14.0,"hi":15.5},{"p":"c","s":"Model BASE-MIXED","alt":8.4,"lo":14.8,"hi":15.7},{"p":"c","s":"Model BASE-MIXED","alt":7.7,"lo":15.1,"hi":16.0},
      {"p":"c","s":"Model BASE","alt":11.5,"lo":0.18,"hi":0.25},{"p":"c","s":"Model BASE","alt":11.4,"lo":0.7,"hi":1.5},{"p":"c","s":"Model BASE","alt":11.3,"lo":1.5,"hi":3.5},{"p":"c","s":"Model BASE","alt":11.2,"lo":3.1,"hi":4.5},{"p":"c","s":"Model BASE","alt":11.1,"lo":3.3,"hi":5.0},{"p":"c","s":"Model BASE","alt":10.72,"lo":3.5,"hi":5.4},{"p":"c","s":"Model BASE","alt":10.39,"lo":3.7,"hi":6.0},{"p":"c","s":"Model BASE","alt":10.05,"lo":3.9,"hi":7.6},{"p":"c","s":"Model BASE","alt":9.72,"lo":4.2,"hi":9.2},{"p":"c","s":"Model BASE","alt":9.52,"lo":4.6,"hi":11.0},{"p":"c","s":"Model BASE","alt":9.38,"lo":4.8,"hi":12.0},{"p":"c","s":"Model BASE","alt":9.18,"lo":5.1,"hi":12.8},{"p":"c","s":"Model BASE","alt":9.05,"lo":7.5,"hi":13.7},{"p":"c","s":"Model BASE","alt":8.95,"lo":11,"hi":14.5},{"p":"c","s":"Model BASE","alt":8.7,"lo":13.5,"hi":15.0},{"p":"c","s":"Model BASE","alt":8.4,"lo":14.7,"hi":15.6},{"p":"c","s":"Model BASE","alt":7.7,"lo":15.1,"hi":16.0},{"p":"c","s":"Model BASE","alt":7.0,"lo":15.3,"hi":16.2},{"p":"c","s":"Model BASE","alt":6.7,"lo":15.5,"hi":16.4},{"p":"c","s":"Model BASE","alt":6.5,"lo":14.0,"hi":15.5},{"p":"c","s":"Model BASE","alt":6.3,"lo":10.5,"hi":12.0},{"p":"c","s":"Model BASE","alt":6.17,"lo":8.0,"hi":9.3},{"p":"c","s":"Model BASE","alt":6.0,"lo":5.8,"hi":6.6}
    ]
  },
  "hconcat": [
    {
      "width": 347, "height": 299,
      "title": {"text": "a)", "anchor": "start", "frame": "group", "fontWeight": "bold", "fontSize": 16, "offset": 5},
      "layer": [
        {
          "data": {"name": "B"},
          "transform": [{"filter": "datum.p === 'a'"}],
          "mark": {"type": "area", "orient": "horizontal", "clip": true, "fillOpacity": 0.2},
          "encoding": {
            "x": {"field": "lo", "type": "quantitative", "stack": null, "scale": {"type": "log", "domain": [0.1, 1000], "nice": false}, "title": "IWC (mg m⁻³)"},
            "x2": {"field": "hi"},
            "y": {"field": "alt", "type": "quantitative", "scale": {"domain": [6, 12], "nice": false}, "title": "Altitude (km)"},
            "fill": {"field": "s", "type": "nominal", "legend": null, "scale": {"domain": ["NIXE-CAPS", "OPC", "DARDAR-ICE", "MIRA 35-C (IWC)", "Model BASE-MIXED", "Model BASE"], "range": ["#ff0000", "#ff0000", "#0000ff", "#008000", "#000000", "#000000"]}}
          }
        },
        {
          "data": {"name": "L"},
          "transform": [{"filter": "datum.p === 'a'"}],
          "mark": {"type": "line", "clip": true, "strokeWidth": 3.8, "invalid": "break-paths-show-domains"},
          "encoding": {
            "x": {"field": "v", "type": "quantitative", "scale": {"type": "log", "domain": [0.1, 1000], "nice": false}, "title": "IWC (mg m⁻³)",
              "axis": {"values": [0.1,0.2,0.3,0.4,0.5,0.6,0.7,0.8,0.9,1,2,3,4,5,6,7,8,9,10,20,30,40,50,60,70,80,90,100,200,300,400,500,600,700,800,900,1000],
                "labelExpr": "abs(log(datum.value)/LN10 - round(log(datum.value)/LN10)) < 0.001 ? '10' + replace(replace(replace(replace(replace('' + round(log(datum.value)/LN10), '-', '⁻'), '0', '⁰'), '1', '¹'), '2', '²'), '3', '³') : ''",
                "labelOverlap": false, "labelFlush": false, "grid": true,
                "tickSize": {"condition": {"test": "abs(log(datum.value)/LN10 - round(log(datum.value)/LN10)) < 0.001", "value": 5}, "value": 3},
                "gridOpacity": {"condition": {"test": "abs(log(datum.value)/LN10 - round(log(datum.value)/LN10)) < 0.001", "value": 1}, "value": 0},
                "labelPadding": 3, "titlePadding": 8}},
            "y": {"field": "alt", "type": "quantitative", "scale": {"domain": [6, 12], "nice": false}, "title": "Altitude (km)",
              "axis": {"values": [6, 7, 8, 9, 10, 11, 12], "grid": true, "tickSize": 5, "labelPadding": 3, "titlePadding": 10}},
            "color": {"field": "s", "type": "nominal", "title": null, "scale": {"domain": ["DARDAR-ICE", "MIRA 35-C (IWC)", "Model BASE-MIXED", "Model BASE", "NIXE-CAPS", "OPC"], "range": ["#0000ff", "#008000", "#000000", "#000000", "#ff0000", "#ff0000"]}},
            "strokeDash": {"field": "s", "type": "nominal", "title": null, "scale": {"domain": ["DARDAR-ICE", "MIRA 35-C (IWC)", "Model BASE-MIXED", "Model BASE", "NIXE-CAPS", "OPC"], "range": [[13, 6], [13, 6], [22, 6, 4, 6], [1, 0], [1, 0], [13, 6]]}},
            "order": {"field": "alt", "type": "quantitative", "sort": "descending"}
          }
        }
      ]
    },
    {
      "width": 347, "height": 299,
      "title": {"text": "b)", "anchor": "start", "frame": "group", "fontWeight": "bold", "fontSize": 16, "offset": 5},
      "layer": [
        {
          "data": {"name": "B"},
          "transform": [{"filter": "datum.p === 'b'"}],
          "mark": {"type": "area", "orient": "horizontal", "clip": true, "fillOpacity": 0.2},
          "encoding": {
            "x": {"field": "lo", "type": "quantitative", "stack": null, "scale": {"type": "log", "domain": [0.001, 100], "nice": false}, "title": "ICNC (cm⁻³)"},
            "x2": {"field": "hi"},
            "y": {"field": "alt", "type": "quantitative", "scale": {"domain": [6, 12], "nice": false}, "title": null},
            "fill": {"field": "s", "type": "nominal", "legend": null, "scale": {"domain": ["NIXE-CAPS", "OPC", "DARDAR-ICE", "MIRA 35-C (IWC)", "Model BASE-MIXED", "Model BASE"], "range": ["#ff0000", "#ff0000", "#0000ff", "#008000", "#000000", "#000000"]}}
          }
        },
        {
          "data": {"name": "L"},
          "transform": [{"filter": "datum.p === 'b'"}],
          "mark": {"type": "line", "clip": true, "strokeWidth": 3.8, "invalid": "break-paths-show-domains"},
          "encoding": {
            "x": {"field": "v", "type": "quantitative", "scale": {"type": "log", "domain": [0.001, 100], "nice": false}, "title": "ICNC (cm⁻³)",
              "axis": {"values": [0.001,0.002,0.003,0.004,0.005,0.006,0.007,0.008,0.009,0.01,0.02,0.03,0.04,0.05,0.06,0.07,0.08,0.09,0.1,0.2,0.3,0.4,0.5,0.6,0.7,0.8,0.9,1,2,3,4,5,6,7,8,9,10,20,30,40,50,60,70,80,90,100],
                "labelExpr": "abs(log(datum.value)/LN10 - round(log(datum.value)/LN10)) < 0.001 ? '10' + replace(replace(replace(replace(replace('' + round(log(datum.value)/LN10), '-', '⁻'), '0', '⁰'), '1', '¹'), '2', '²'), '3', '³') : ''",
                "labelOverlap": false, "labelFlush": false, "grid": true,
                "tickSize": {"condition": {"test": "abs(log(datum.value)/LN10 - round(log(datum.value)/LN10)) < 0.001", "value": 5}, "value": 3},
                "gridOpacity": {"condition": {"test": "abs(log(datum.value)/LN10 - round(log(datum.value)/LN10)) < 0.001", "value": 1}, "value": 0},
                "labelPadding": 3, "titlePadding": 8}},
            "y": {"field": "alt", "type": "quantitative", "scale": {"domain": [6, 12], "nice": false}, "title": null,
              "axis": {"values": [6, 7, 8, 9, 10, 11, 12], "grid": true, "tickSize": 5, "labels": false}},
            "color": {"field": "s", "type": "nominal", "title": null, "scale": {"domain": ["DARDAR-ICE", "MIRA 35-C (IWC)", "Model BASE-MIXED", "Model BASE", "NIXE-CAPS", "OPC"], "range": ["#0000ff", "#008000", "#000000", "#000000", "#ff0000", "#ff0000"]}},
            "strokeDash": {"field": "s", "type": "nominal", "title": null, "scale": {"domain": ["DARDAR-ICE", "MIRA 35-C (IWC)", "Model BASE-MIXED", "Model BASE", "NIXE-CAPS", "OPC"], "range": [[13, 6], [13, 6], [22, 6, 4, 6], [1, 0], [1, 0], [13, 6]]}},
            "order": {"field": "alt", "type": "quantitative", "sort": "descending"}
          }
        }
      ]
    },
    {
      "width": 348, "height": 299,
      "title": {"text": "c)", "anchor": "start", "frame": "group", "fontWeight": "bold", "fontSize": 16, "offset": 5},
      "layer": [
        {
          "data": {"name": "B"},
          "transform": [{"filter": "datum.p === 'c'"}],
          "mark": {"type": "area", "orient": "horizontal", "clip": true, "fillOpacity": 0.2},
          "encoding": {
            "x": {"field": "lo", "type": "quantitative", "stack": null, "scale": {"type": "log", "domain": [0.1, 100], "nice": false}, "title": "Dust concentration (cm⁻³)"},
            "x2": {"field": "hi"},
            "y": {"field": "alt", "type": "quantitative", "scale": {"domain": [6, 12], "nice": false}, "title": null},
            "fill": {"field": "s", "type": "nominal", "legend": null, "scale": {"domain": ["NIXE-CAPS", "OPC", "DARDAR-ICE", "MIRA 35-C (IWC)", "Model BASE-MIXED", "Model BASE"], "range": ["#ff0000", "#ff0000", "#0000ff", "#008000", "#000000", "#000000"]}}
          }
        },
        {
          "data": {"name": "L"},
          "transform": [{"filter": "datum.p === 'c'"}],
          "mark": {"type": "line", "clip": true, "strokeWidth": 3.8, "invalid": "break-paths-show-domains"},
          "encoding": {
            "x": {"field": "v", "type": "quantitative", "scale": {"type": "log", "domain": [0.1, 100], "nice": false}, "title": "Dust concentration (cm⁻³)",
              "axis": {"values": [0.1,0.2,0.3,0.4,0.5,0.6,0.7,0.8,0.9,1,2,3,4,5,6,7,8,9,10,20,30,40,50,60,70,80,90,100],
                "labelExpr": "abs(log(datum.value)/LN10 - round(log(datum.value)/LN10)) < 0.001 ? '10' + replace(replace(replace(replace(replace('' + round(log(datum.value)/LN10), '-', '⁻'), '0', '⁰'), '1', '¹'), '2', '²'), '3', '³') : ''",
                "labelOverlap": false, "labelFlush": false, "grid": true,
                "tickSize": {"condition": {"test": "abs(log(datum.value)/LN10 - round(log(datum.value)/LN10)) < 0.001", "value": 5}, "value": 3},
                "gridOpacity": {"condition": {"test": "abs(log(datum.value)/LN10 - round(log(datum.value)/LN10)) < 0.001", "value": 1}, "value": 0},
                "labelPadding": 3, "titlePadding": 8}},
            "y": {"field": "alt", "type": "quantitative", "scale": {"domain": [6, 12], "nice": false}, "title": null,
              "axis": {"values": [6, 7, 8, 9, 10, 11, 12], "grid": true, "tickSize": 5, "labels": false}},
            "color": {"field": "s", "type": "nominal", "title": null, "scale": {"domain": ["DARDAR-ICE", "MIRA 35-C (IWC)", "Model BASE-MIXED", "Model BASE", "NIXE-CAPS", "OPC"], "range": ["#0000ff", "#008000", "#000000", "#000000", "#ff0000", "#ff0000"]}},
            "strokeDash": {"field": "s", "type": "nominal", "title": null, "scale": {"domain": ["DARDAR-ICE", "MIRA 35-C (IWC)", "Model BASE-MIXED", "Model BASE", "NIXE-CAPS", "OPC"], "range": [[13, 6], [13, 6], [22, 6, 4, 6], [1, 0], [1, 0], [13, 6]]}},
            "order": {"field": "alt", "type": "quantitative", "sort": "descending"}
          }
        }
      ]
    }
  ],
  "spacing": 15,
  "config": {
    "font": "DejaVu Sans",
    "view": {"stroke": "black", "strokeWidth": 1},
    "title": {"font": "DejaVu Sans", "color": "black"},
    "axis": {"labelFont": "DejaVu Sans", "labelFontSize": 14, "titleFont": "DejaVu Sans", "titleFontSize": 14, "titleFontWeight": "normal", "labelColor": "black", "titleColor": "black", "tickColor": "black", "domainColor": "black", "gridColor": "#b0b0b0", "gridWidth": 0.8},
    "legend": {"orient": "none", "legendX": 190, "legendY": 359, "direction": "horizontal", "columns": 4, "symbolType": "M-1.9,0H1.9", "symbolSize": 289, "symbolStrokeWidth": 3.5, "labelFont": "DejaVu Sans", "labelFontSize": 14, "labelColor": "black", "columnPadding": 35, "rowPadding": 2, "labelOffset": 16, "labelLimit": 300}
  }
}
